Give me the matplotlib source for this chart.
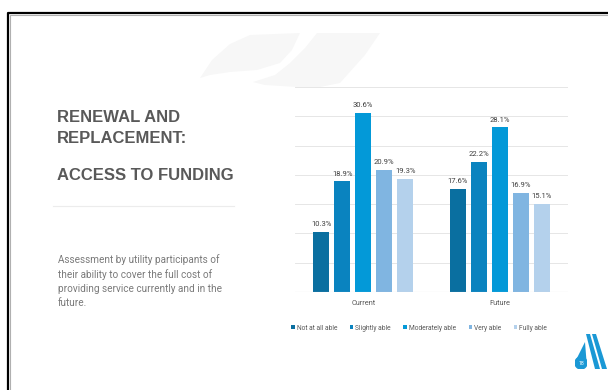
import numpy as np
import matplotlib.pyplot as plt
from matplotlib.patches import Polygon, Circle
from matplotlib.lines import Line2D

plt.rcParams['font.family'] = ['Roboto', 'DejaVu Sans']

periods = ['Current', 'Future']
levels = ['Not at all able', 'Slightly able', 'Moderately able', 'Very able', 'Fully able']
not_at_all = [10.3, 17.6]
slightly = [18.9, 22.2]
moderately = [30.6, 28.1]
very = [20.9, 16.9]
fully = [19.3, 15.1]
series = [not_at_all, slightly, moderately, very, fully]
colors = ['#0a6fa0', '#0a83bf', '#0399d8', '#80b5e1', '#b4d1ec']

W, H = 608, 390
fig = plt.figure(figsize=(W / 100, H / 100), dpi=100)
fig.patch.set_facecolor('white')


def px(x, y):
    # pixel position (top-left origin) -> figure fraction
    return x / W, 1 - y / H


# faint leaf watermark behind the slide title area
leaf1 = [(200, 78), (212, 60), (230, 44), (250, 35), (300, 33), (292, 50),
         (280, 63), (257, 70), (230, 72), (210, 75)]
leaf2 = [(317, 33), (380, 33), (365, 55), (340, 83), (320, 87), (297, 87),
         (265, 85), (253, 82), (275, 75), (290, 63), (305, 48)]
for pts in (leaf1, leaf2):
    fig.patches.append(Polygon([px(*p) for p in pts], closed=True, transform=fig.transFigure,
                               facecolor='#f7f7f7', edgecolor='none', zorder=0))

# slide frame
fig.add_artist(Line2D([7.5 / W, 7.5 / W, 1], [0, 1 - 12.5 / H, 1 - 12.5 / H],
                      transform=fig.transFigure, color='black', lw=1.6))
fig.add_artist(Line2D([9.5 / W, 9.5 / W, 1], [0, 1 - 14.5 / H, 1 - 14.5 / H],
                      transform=fig.transFigure, color='#b0b0b0', lw=0.8))

# left text block
title_kw = dict(fontsize=12, fontweight='bold', color='#595959', va='center', ha='left',
                family=['Liberation Sans', 'DejaVu Sans'])
fig.text(*px(57, 118), 'RENEWAL AND', **title_kw)
fig.text(*px(57, 138), 'REPLACEMENT:', **title_kw)
fig.text(*px(57, 176), 'ACCESS TO FUNDING', **title_kw)
fig.add_artist(Line2D([53 / W, 234 / W], [1 - 206 / H] * 2, transform=fig.transFigure,
                      color='#ececec', lw=0.8))
body = ('Assessment by utility participants of\n'
        'their ability to cover the full cost of\n'
        'providing service currently and in the\n'
        'future.')
fig.text(*px(58, 254), body, fontsize=7.2, color='#7a7a7a', va='top', ha='left',
         linespacing=1.5)

# grouped bar chart
ax = fig.add_axes([295 / W, 1 - 292 / H, 273 / W, 205 / H])
x = np.arange(len(periods))
step = 0.154
width = 0.118
for i, (vals, lab, c) in enumerate(zip(series, levels, colors)):
    pos = x + (i - 2) * step
    bars = ax.bar(pos, vals, width, color=c, label=lab, zorder=3)
    for b, v in zip(bars, vals):
        ax.text(b.get_x() + b.get_width() / 2, v + 0.8, f'{v:.1f}%', ha='center',
                va='bottom', fontsize=5.5, color='#404040')

ax.set_xlim(-0.5, 1.5)
ax.set_ylim(0, 35)
ax.set_yticks(np.arange(0, 36, 5))
ax.yaxis.grid(True, color='#e6e6e6', lw=0.7, zorder=0)
ax.tick_params(axis='y', left=False, labelleft=False)
ax.tick_params(axis='x', bottom=False, labelsize=5.3, labelcolor='#595959', pad=2)
ax.set_xticks(x)
ax.set_xticklabels(periods)
for s in ax.spines.values():
    s.set_visible(False)
ax.axhline(0, color='#d9d9d9', lw=0.8, zorder=4)
ax.set_facecolor('none')

leg = ax.legend(loc='upper center', bbox_to_anchor=(0.455, -0.13), ncol=5, frameon=False,
                fontsize=4.8, handlelength=0.5, handleheight=0.5, handletextpad=0.3,
                columnspacing=1.9, labelcolor='#595959')

# logo in the bottom-right corner
blue = '#1a98d5'
fig.patches.append(Polygon([px(586, 334), px(590, 334), px(600, 369), px(595, 369)],
                           closed=True, transform=fig.transFigure, facecolor=blue, edgecolor='none'))
fig.patches.append(Polygon([px(592, 334), px(596, 334), px(607, 369), px(602, 369)],
                           closed=True, transform=fig.transFigure, facecolor=blue, edgecolor='none'))
fig.patches.append(Polygon([px(585, 342), px(575.5, 361), px(586.5, 361)], closed=True,
                           transform=fig.transFigure, facecolor=blue, edgecolor='none'))
ax_logo = fig.add_axes([575 / W, 1 - 369 / H, 12 / W, 12 / H])
ax_logo.add_patch(Circle((0.5, 0.5), 0.5, color=blue))
ax_logo.text(0.5, 0.42, '18', color='white', fontsize=3.8, ha='center', va='center')
ax_logo.set_xlim(0, 1)
ax_logo.set_ylim(0, 1)
ax_logo.axis('off')

fig.savefig('out.png', dpi=100, facecolor='white')
